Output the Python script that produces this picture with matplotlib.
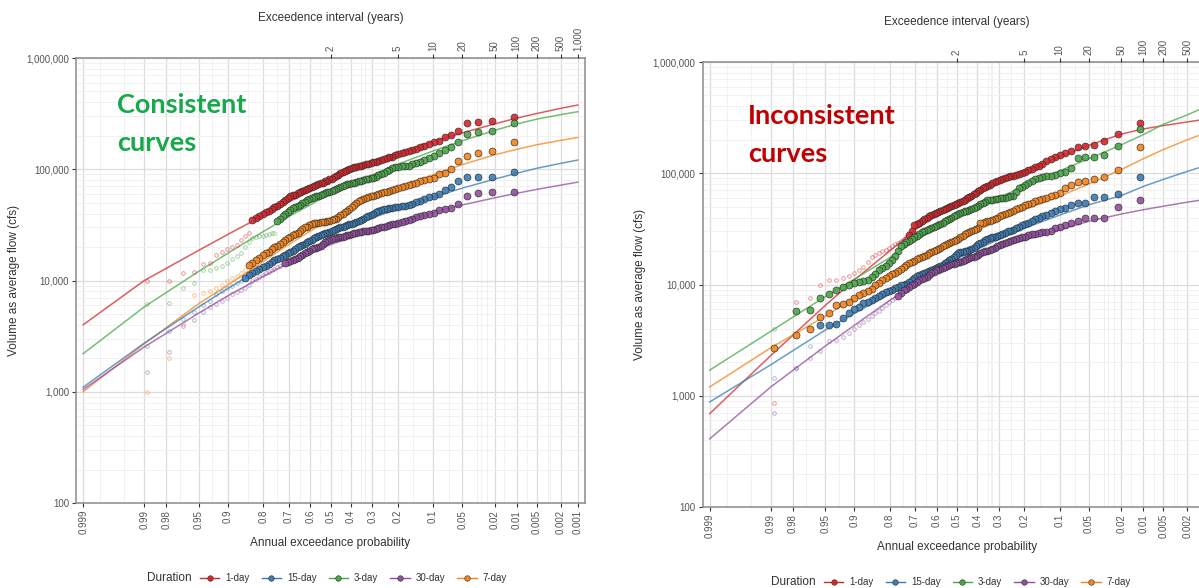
import matplotlib
matplotlib.use("Agg")
import matplotlib.pyplot as plt
from matplotlib.lines import Line2D
from matplotlib.ticker import FixedLocator, NullFormatter
from statistics import NormalDist
import numpy as np

plt.rcParams["font.family"] = ["Liberation Sans", "DejaVu Sans"]

W, H = 1199, 588
N_YEARS = 90  # record length, plotting position = rank / (N + 1)

DURATIONS = ["1-day", "15-day", "3-day", "30-day", "7-day"]
COLORS = {"1-day": "#D7262B", "15-day": "#3A7BB5", "3-day": "#48A848",
          "30-day": "#924E9F", "7-day": "#F5841A"}

AEP_TICKS = [0.999, 0.99, 0.98, 0.95, 0.9, 0.8, 0.7, 0.6, 0.5, 0.4, 0.3, 0.2,
             0.1, 0.05, 0.02, 0.01, 0.005, 0.002, 0.001]
AEP_LABELS = ["0.999", "0.99", "0.98", "0.95", "0.9", "0.8", "0.7", "0.6", "0.5",
              "0.4", "0.3", "0.2", "0.1", "0.05", "0.02", "0.01", "0.005", "0.002", "0.001"]
AEP_MINOR = [0.998, 0.995, 0.97, 0.93, 0.85, 0.75, 0.65, 0.55, 0.45, 0.35, 0.333,
             0.25, 0.15, 0.07, 0.0333, 0.03, 0.025, 0.015, 0.007, 0.00333, 0.003]
INTERVAL_TICKS = [2, 5, 10, 20, 50, 100, 200, 500, 1000]
INTERVAL_LABELS = ["2", "5", "10", "20", "50", "100", "200", "500", "1,000"]
Y_TICKS = [100, 1000, 10000, 100000, 1000000]
Y_LABELS = ["100", "1,000", "10,000", "100,000", "1,000,000"]

# fitted frequency curves, flow in 1000 cfs at these AEPs
CURVE_AEP = [0.999, 0.99, 0.95, 0.9, 0.8, 0.7, 0.5, 0.3, 0.2, 0.1, 0.05, 0.02,
             0.01, 0.005, 0.002, 0.001]

# ---------------- consistent (left) ----------------
L_1DAY_FIT = [4.0, 10, 18.7, 26, 38.3, 50.6, 79, 113.5, 138, 177, 212, 256, 288, 317, 353, 378]
L_3DAY_FIT = [2.2, 5.8, 12.1, 17.6, 27.5, 37.5, 60, 89, 111, 146, 180, 224, 255, 282, 310, 329]
L_7DAY_FIT = [1.0, 2.7, 6.2, 9.1, 14.8, 21, 36, 55, 68, 89, 110, 135, 151, 166, 182, 193]
L_15DAY_FIT = [1.1, 2.74, 5.8, 8.5, 13, 17.3, 26, 36.5, 44, 56, 67.6, 81.6, 92, 102, 113, 121]
L_30DAY_FIT = [1.05, 2.53, 5.1, 7.3, 10.9, 14.3, 21, 28.5, 33.5, 41, 47.7, 55.4, 60.8, 65.9, 72, 76.6]

# annual peaks, ranked largest first (1000 cfs); *_LOW are the low ranks drawn small/hollow
L_1DAY_OBS = [294, 270, 265, 258, 222, 205, 196, 181, 176, 169,
              163, 158, 153, 149, 146, 143, 139, 136, 133, 130,
              128, 126, 124, 121, 118, 116, 115, 113, 112, 111,
              110, 108, 107, 105, 104, 102, 100, 98, 96, 94,
              92, 89, 87, 85, 82, 81, 79, 78, 76, 75,
              74, 72, 71, 69, 68, 67, 65, 64, 63, 61,
              59, 58.5, 57, 55, 53, 51, 49, 47, 46, 44,
              42.5, 41, 39.5, 38, 36.5, 35]
L_1DAY_LOW = [27, 25, 23, 21, 20, 19, 18, 17, 14.5, 14, 12, 11.8, 10, 10]

L_3DAY_OBS = [259, 220, 216, 207, 175, 158, 148, 140, 131, 125,
              121, 117, 114, 111, 108, 107, 106, 105, 104, 102,
              99, 96, 93, 90, 88, 86, 84, 83, 82, 81,
              80, 79, 78, 77, 76, 75, 74, 73, 72, 70,
              69, 68, 66, 65, 64, 63, 62, 61, 60, 59,
              58, 57, 56, 55, 54, 52.5, 51, 50, 48, 47,
              46, 44.5, 43, 41, 39.5, 38, 36, 34]
L_3DAY_LOW = [27, 26.5, 26, 25.5, 25, 25, 24.5, 24, 22, 20, 17.5, 16.5, 15.5, 14.5,
              13.5, 13, 12.5, 12.3, 9.5, 8.5, 6.3, 6.2]

L_7DAY_OBS = [175, 145, 140, 131, 118, 100, 92, 90, 84, 82,
              80, 78, 76, 74, 72, 70.5, 69, 67.5, 66, 65,
              64, 63, 62, 61, 60, 59, 58, 57, 56, 55,
              54, 53, 51.5, 50, 48, 46, 44, 42.5, 41, 40,
              38.5, 37, 36, 35.5, 35, 34.5, 34, 33.8, 33.5, 33.3,
              33, 33, 32.8, 32, 31.5, 30.5, 30, 29, 28, 27,
              26, 25.5, 24.5, 24, 23, 22, 21.3, 20.6, 20, 19,
              18, 17.5, 16.9, 16, 15.2, 14.5, 13.7]
L_7DAY_LOW = [12.5, 11.8, 11, 10.5, 9.8, 9.2, 8.5, 8, 7.7, 7.4, 4.1, 2.0, 1.0]

L_15DAY_OBS = [94, 85, 85, 85, 78, 69, 65, 60, 57, 56,
               54, 52, 50.5, 49, 47.5, 47, 46.5, 46, 45.5, 45,
               44.5, 44, 43.5, 43, 42, 41, 40, 39, 38, 37,
               36, 35, 34.5, 33.5, 33, 32.5, 32, 31.5, 31, 30.5,
               30, 29.5, 29, 28.5, 28, 27.5, 27, 26.5, 26, 25.5,
               25, 24.5, 24, 23, 22.5, 22, 21.5, 21, 20.3, 19.8,
               19.2, 18.5, 18, 17.5, 17, 16.5, 16, 15.7, 15.2, 14.6,
               14, 13.6, 13.2, 12.7, 12.2, 11.6, 11.1, 10.6]
L_15DAY_LOW = [10, 9.5, 9, 8.5, 8, 7.5, 6.5, 6, 5.2, 4.5, 3.5, 2.6]

L_30DAY_OBS = [62, 62, 61, 58, 49, 45, 44, 43, 40.5, 40,
               39, 38, 37, 36, 35, 34, 33.5, 33, 32.5, 32,
               31.5, 31, 30.5, 30, 29.5, 29, 28.7, 28.4, 28, 27.8,
               27.6, 27.4, 27.2, 27, 26.6, 26.2, 25.8, 25.4, 25, 24.8,
               24.6, 24.4, 24.2, 24, 23.8, 23, 22.5, 22, 21.3, 20.6,
               20, 19.7, 19.4, 19, 18.5, 18, 17.5, 17, 16.5, 16,
               15.7, 15.3, 15, 14.6, 14.3]
L_30DAY_LOW = [14, 13.6, 13.2, 12.8, 12.4, 12, 11.6, 11.2, 10.8, 10.3, 9.8, 9.2, 8.5,
               8.2, 7.9, 7.5, 7, 6.6, 6.2, 5.8, 5.2, 4.4, 3.9, 2.3, 1.5]

# ---------------- inconsistent (right) ----------------
R_1DAY_FIT = [0.69, 2.3, 6.5, 11, 20, 31, 55, 87, 105, 140, 178, 225, 250, 268, 289, 305]
R_3DAY_FIT = [1.7, 3.8, 7.8, 11.2, 17.4, 24.5, 41.7, 61, 76, 105, 135, 180, 222, 275, 335, 390]
R_7DAY_FIT = [1.2, 2.7, 5.2, 7.6, 11.5, 16, 25, 38, 47, 62, 80, 108, 135, 163, 200, 228]
R_15DAY_FIT = [0.88, 1.9, 3.9, 5.5, 8.2, 11, 17, 25.5, 32, 42, 52, 63, 76, 88, 104, 116]
R_30DAY_FIT = [0.41, 1.2, 2.8, 4.3, 7.2, 10, 15.6, 21.5, 25, 31, 37, 43, 47, 50.5, 55, 58]

R_1DAY_OBS = [282, 224, 194, 179, 175, 171, 158, 152, 146, 140,
              134, 128, 122, 117, 113, 110, 107, 103, 101, 99,
              97, 95, 93.5, 92, 90.5, 89, 87, 85, 83, 81,
              79, 77, 75, 73, 71, 69, 67, 65, 63, 61,
              59.5, 58, 56.5, 55, 54, 53, 52, 51, 50, 49,
              48, 47, 46, 45, 44, 43, 42, 41, 40, 38.5,
              37, 36, 35, 34, 30, 27.6]
R_1DAY_LOW = [26.5, 25.5, 24.5, 23.5, 23, 22, 21.5, 20.5, 20, 19, 18.5, 17.6, 16, 14.5,
              13.5, 12.8, 12, 11.5, 11, 10.9, 9.8, 7.5, 6.9, 0.86]

R_3DAY_OBS = [249, 175, 146, 139, 139, 136, 111, 103, 100, 96,
              95, 94, 92, 90, 88, 85, 82, 79, 76, 74,
              68, 63, 62, 61, 60.5, 60, 59.5, 59, 58.5, 58,
              57.5, 57, 55.5, 54, 52.5, 51, 50, 49, 48, 47,
              46, 45.5, 45, 44, 43, 42, 41, 40, 39, 38,
              37, 36, 35, 34, 33.3, 32.7, 32, 31.5, 31, 30,
              29.5, 28.5, 27.5, 26.5, 25.5, 24.5, 24, 23, 22, 20,
              18, 16.5, 15.5, 14.8, 14.2, 13.4, 12.5, 11.7, 10.9, 10.7,
              10.5, 10.4, 10, 9.5, 9, 8.3, 7.6, 5.9, 5.8]
R_3DAY_LOW = [4.0]

R_7DAY_OBS = [171, 106, 92, 88, 86, 84, 78, 73, 67, 64,
              62, 60, 58.5, 57, 56, 54.5, 53, 51.5, 50, 49,
              47.5, 46, 45, 44, 43, 42, 41, 40, 39, 38,
              37.5, 37, 36.5, 36, 35.5, 32, 31.5, 31, 30, 29.5,
              29, 28.5, 27.5, 26.5, 25.5, 25, 24.5, 24, 23.5, 23,
              22.5, 22, 21.5, 21, 20.5, 20, 19.5, 19, 18.5, 18,
              17.6, 17.2, 16.8, 16.4, 16, 15.6, 15, 14.4, 13.8, 13.2,
              12.8, 12.4, 12, 11.5, 11, 10.4, 9.8, 9.2, 8.8, 8.4,
              8, 7.5, 7, 6.7, 6.5, 5.5, 5.1, 4.0, 3.5, 2.7]
R_7DAY_LOW = []

R_15DAY_OBS = [92, 65, 61, 61, 54, 54, 52, 49, 48, 46,
               43.5, 42, 41, 40, 38.5, 37, 36, 35, 34, 33,
               32, 31, 30.5, 30, 29.3, 28.6, 28, 27.5, 27, 26.5,
               26, 25.5, 25, 24.3, 23.6, 23, 22.2, 21.5, 21, 20.5,
               20, 19.8, 19.6, 19.5, 19, 18.3, 17.5, 17, 16.5, 16,
               15.5, 15.1, 14.8, 14.5, 14.2, 13.9, 13.6, 13.3, 13, 12.7,
               12.4, 12.2, 12, 11.5, 11, 10.5, 10.2, 10, 9.8, 9.5,
               9.3, 9, 8.8, 8.5, 8.2, 7.9, 7.6, 7.3, 7, 6.8,
               6.3, 6.0, 5.5, 5.0, 4.4, 4.3, 4.3]
R_15DAY_LOW = [2.8, 1.76, 1.45]

R_30DAY_OBS = [57, 49.5, 40, 40, 39.5, 37.5, 35.5, 34, 33, 32,
               30.5, 29.8, 29.4, 29, 28.6, 28.2, 27.6, 27, 26.5, 26,
               25.5, 25, 24.5, 24, 23.5, 23, 22.5, 22, 21.5, 21,
               20.6, 20.2, 19.8, 19.4, 19, 18.6, 18.2, 17.8, 17.5, 17.2,
               16.9, 16.6, 16.3, 16, 15.8, 15.6, 15.4, 15.2, 15, 14.7,
               14.4, 14.1, 13.9, 13.6, 13.4, 13, 12.6, 12.2, 11.8, 11.5,
               11.2, 10.9, 10.5, 10.1, 9.8, 9.5, 9.2, 8.9, 8.4, 7.9]
R_30DAY_LOW = [7.5, 7.2, 6.9, 6.5, 6.1, 5.8, 5.5, 5.2, 4.9, 4.6, 4.3, 4.0, 3.7, 3.4,
               3.2, 3.1, 2.5, 2.2, 1.76, 0.7]

LEFT = {"1-day": (L_1DAY_FIT, L_1DAY_OBS, L_1DAY_LOW),
        "3-day": (L_3DAY_FIT, L_3DAY_OBS, L_3DAY_LOW),
        "7-day": (L_7DAY_FIT, L_7DAY_OBS, L_7DAY_LOW),
        "15-day": (L_15DAY_FIT, L_15DAY_OBS, L_15DAY_LOW),
        "30-day": (L_30DAY_FIT, L_30DAY_OBS, L_30DAY_LOW)}
RIGHT = {"1-day": (R_1DAY_FIT, R_1DAY_OBS, R_1DAY_LOW),
         "3-day": (R_3DAY_FIT, R_3DAY_OBS, R_3DAY_LOW),
         "7-day": (R_7DAY_FIT, R_7DAY_OBS, R_7DAY_LOW),
         "15-day": (R_15DAY_FIT, R_15DAY_OBS, R_15DAY_LOW),
         "30-day": (R_30DAY_FIT, R_30DAY_OBS, R_30DAY_LOW)}

ND = NormalDist()


def zq(aep):
    # normal quantile of non-exceedance, so small AEP plots to the right
    return np.array([ND.inv_cdf(1.0 - p) for p in np.atleast_1d(aep)])


def setup_axes(ax):
    ax.set_xlim(-3.18, 3.18)
    ax.set_yscale("log")
    ax.set_ylim(100, 1e6)
    ax.set_xticks(zq(AEP_TICKS))
    ax.set_xticklabels(AEP_LABELS, rotation=90, fontsize=7, color="#555555")
    minor_x = list(zq(AEP_MINOR)) + list(zq([1 / t for t in [3, 4, 30, 40, 300]]))
    ax.xaxis.set_minor_locator(FixedLocator(minor_x))
    ax.set_yticks(Y_TICKS)
    ax.set_yticklabels(Y_LABELS, fontsize=7, color="#555555")
    minor_y = [m * 10 ** e for e in range(2, 6) for m in range(2, 10)]
    ax.yaxis.set_minor_locator(FixedLocator(minor_y))
    ax.yaxis.set_minor_formatter(NullFormatter())
    ax.tick_params(which="minor", length=0)
    ax.tick_params(which="major", length=3, width=0.8, color="#333333", pad=2)
    ax.grid(which="major", color="#dcdcdc", lw=0.9)
    ax.grid(which="minor", color="#efefef", lw=0.6)
    ax.set_axisbelow(True)
    for s in ax.spines.values():
        s.set_color("#8a8a8a")
        s.set_linewidth(1.1)

    top = ax.twiny()
    top.set_xlim(ax.get_xlim())
    top.set_xticks(zq([1.0 / t for t in INTERVAL_TICKS]))
    top.set_xticklabels(INTERVAL_LABELS, rotation=90, fontsize=7, color="#555555")
    top.tick_params(length=3, width=0.8, color="#333333", pad=2)
    for s in top.spines.values():
        s.set_visible(False)


def draw_panel(ax, data):
    order = ["1-day", "3-day", "7-day", "15-day", "30-day"]
    for name in order:
        fit = data[name][0]
        ax.plot(zq(CURVE_AEP), np.array(fit) * 1000, color=COLORS[name],
                lw=1.1, alpha=0.75, zorder=2)
    for name in order:
        fit, obs, low = data[name]
        c = COLORS[name]
        r_obs = np.arange(1, len(obs) + 1)
        r_low = np.arange(len(obs) + 1, len(obs) + len(low) + 1)
        if len(low):
            ax.plot(zq(r_low / (N_YEARS + 1)), np.array(low) * 1000, ls="none",
                    marker="o", ms=2.6, mfc="none", mec=c, mew=0.6, alpha=0.55, zorder=3)
        ax.plot(zq(r_obs / (N_YEARS + 1)), np.array(obs) * 1000, ls="none",
                marker="o", ms=5, mfc=c, mec="#2b2b2b", mew=0.5, alpha=0.9, zorder=4)


def add_labels(cx, top_y, bot_y, ylab_x, ylab_y, leg_x, leg_y):
    fig.text(cx / W, 1 - top_y / H, "Exceedence interval (years)", ha="center",
             va="center", fontsize=8.5, color="#333333")
    fig.text(cx / W, 1 - bot_y / H, "Annual exceedance probability", ha="center",
             va="center", fontsize=8.5, color="#333333")
    fig.text(ylab_x / W, 1 - ylab_y / H, "Volume as average flow (cfs)", ha="center",
             va="center", rotation=90, fontsize=8.5, color="#333333")
    fig.text(leg_x / W, 1 - leg_y / H, "Duration", ha="left", va="center",
             fontsize=8.5, color="#333333")
    handles = [Line2D([0], [0], color=COLORS[d], lw=1.0, marker="o", ms=4,
                      mfc=COLORS[d], mec="#333333", mew=0.4) for d in DURATIONS]
    fig.legend(handles, DURATIONS, loc="center left",
               bbox_to_anchor=((leg_x + 53) / W, 1 - leg_y / H), ncol=5, frameon=False,
               fontsize=7, handlelength=2.0, handletextpad=0.6, columnspacing=1.25,
               borderaxespad=0, borderpad=0, labelcolor="#333333")


fig = plt.figure(figsize=(W / 100, H / 100), dpi=100)

ax_l = fig.add_axes([76 / W, 1 - 503 / H, 509 / W, 445 / H])
setup_axes(ax_l)
draw_panel(ax_l, LEFT)

ax_r = fig.add_axes([702.5 / W, 1 - 507 / H, 509 / W, 445 / H])
setup_axes(ax_r)
draw_panel(ax_r, RIGHT)

add_labels(330.5, 18, 543, 14, 280, 147, 578)
add_labels(957, 22, 547, 640, 284, 771, 582)

fig.text(117 / W, 1 - 113 / H, "Consistent", fontsize=19.5, fontweight="bold",
         family="Lato", color="#16A84A", va="baseline")
fig.text(117 / W, 1 - 151 / H, "curves", fontsize=19.5, fontweight="bold",
         family="Lato", color="#16A84A", va="baseline")
fig.text(748 / W, 1 - 124 / H, "Inconsistent", fontsize=19.5, fontweight="bold",
         family="Lato", color="#C00000", va="baseline")
fig.text(748 / W, 1 - 162 / H, "curves", fontsize=19.5, fontweight="bold",
         family="Lato", color="#C00000", va="baseline")

fig.savefig("out.png", dpi=100)
